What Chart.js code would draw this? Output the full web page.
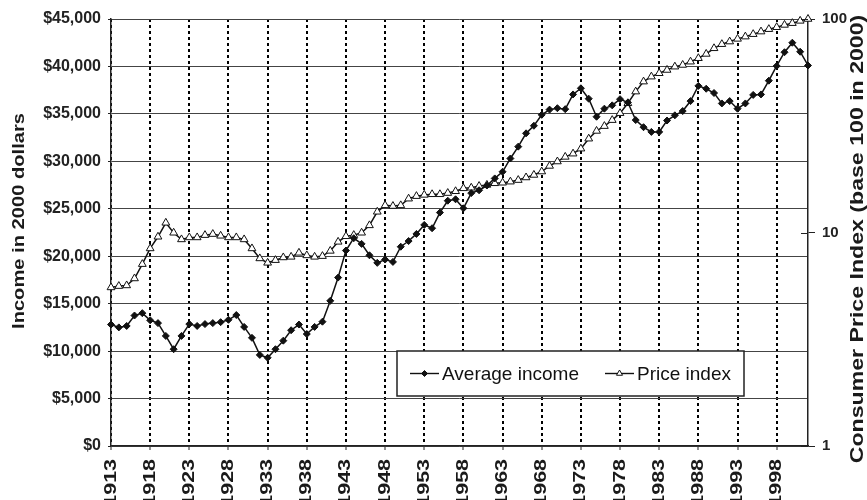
<!DOCTYPE html>
<html>
<head>
<meta charset="utf-8">
<script src="https://cdn.jsdelivr.net/npm/chart.js@4.4.1/dist/chart.umd.min.js"></script>
<style>
  html, body { margin: 0; padding: 0; background: #fff; }
  canvas { display: block; }
</style>
</head>
<body>
<canvas id="incomeChart" width="867" height="500"></canvas>
<script>
// years on the category axis
const years = [
  1913, 1914, 1915, 1916, 1917, 1918, 1919, 1920, 1921, 1922,
  1923, 1924, 1925, 1926, 1927, 1928, 1929, 1930, 1931, 1932,
  1933, 1934, 1935, 1936, 1937, 1938, 1939, 1940, 1941, 1942,
  1943, 1944, 1945, 1946, 1947, 1948, 1949, 1950, 1951, 1952,
  1953, 1954, 1955, 1956, 1957, 1958, 1959, 1960, 1961, 1962,
  1963, 1964, 1965, 1966, 1967, 1968, 1969, 1970, 1971, 1972,
  1973, 1974, 1975, 1976, 1977, 1978, 1979, 1980, 1981, 1982,
  1983, 1984, 1985, 1986, 1987, 1988, 1989, 1990, 1991, 1992,
  1993, 1994, 1995, 1996, 1997, 1998, 1999, 2000, 2001, 2002
];

// average income, 2000 dollars
const averageIncome = [
  12800, 12500, 12650, 13750, 14000, 13250, 12950, 11600, 10200, 11600,
  12850, 12650, 12850, 12950, 13050, 13300, 13800, 12550, 11400, 9600,
  9300, 10200, 11100, 12200, 12800, 11800, 12550, 13100, 15300, 17750,
  20600, 21900, 21300, 20100, 19300, 19650, 19400, 21000, 21600, 22350,
  23300, 22950, 24600, 25850, 26000, 25050, 26650, 26950, 27450, 28200,
  28900, 30300, 31550, 32950, 33750, 34900, 35450, 35600, 35500, 37050,
  37700, 36600, 34700, 35550, 35900, 36550, 36200, 34350, 33600, 33100,
  33100, 34300, 34850, 35300, 36350, 37950, 37650, 37200, 36100, 36350,
  35550, 36100, 37000, 37050, 38500, 40050, 41500, 42500, 41550, 40100
];

// consumer price index, base 100 in 2000
const priceIndex = [
  5.53, 5.61, 5.65, 6.09, 7.11, 8.42, 9.55, 11.1, 9.97, 9.28,
  9.48, 9.48, 9.72, 9.83, 9.65, 9.48, 9.48, 9.28, 8.42, 7.56,
  7.21, 7.42, 7.64, 7.69, 8.03, 7.81, 7.69, 7.75, 8.2, 9.04,
  9.6, 9.72, 9.97, 10.8, 12.5, 13.4, 13.3, 13.4, 14.4, 14.8,
  15.0, 15.1, 15.1, 15.3, 15.6, 16.1, 16.2, 16.5, 16.7, 17.0,
  17.1, 17.3, 17.6, 18.1, 18.6, 19.3, 20.5, 21.5, 22.6, 23.4,
  24.7, 27.5, 29.9, 31.5, 33.6, 36.2, 40.3, 45.7, 50.9, 53.7,
  55.7, 57.7, 59.8, 60.9, 63.1, 65.5, 68.6, 72.9, 76.2, 78.4,
  80.7, 82.7, 84.9, 87.3, 89.6, 91.5, 93.8, 95.6, 98.0, 100
];

const incomeTicks = [0, 5000, 10000, 15000, 20000, 25000, 30000, 35000, 40000, 45000];
const priceTicks = [1, 10, 100];
const seriesNames = ["Average income", "Price index"];
const leftTitle = "Income in 2000 dollars";
const rightTitle = "Consumer Price Index (base 100 in 2000)";

const FONT = "'Liberation Sans', Arial, Helvetica, sans-serif";
const INK = "#111";

// rotated text, stretched along its length like the original scan
function drawUpText(ctx, text, x, y, size, stretch, align) {
  ctx.save();
  ctx.translate(x, y);
  ctx.rotate(-Math.PI / 2);
  ctx.scale(stretch, 1);
  ctx.font = "bold " + size + "px " + FONT;
  ctx.fillStyle = "#1a1a1a";
  ctx.textAlign = align;
  ctx.textBaseline = "middle";
  ctx.fillText(text, 0, 0);
  ctx.restore();
}

const decorations = {
  id: "decorations",
  afterDraw(chart) {
    const ctx = chart.ctx;
    const xs = chart.scales.x;
    const y1 = chart.scales.y1;
    const area = chart.chartArea;

    // year labels every five years
    xs.ticks.forEach((t, i) => {
      if (i % 5 !== 0) return;
      drawUpText(ctx, String(years[i]), xs.getPixelForTick(i), area.bottom + 13, 16.5, 1.3, "right");
    });

    // inner half of the right-axis ticks
    ctx.save();
    ctx.strokeStyle = "#222";
    ctx.lineWidth = 1;
    priceTicks.forEach((v) => {
      const py = Math.round(y1.getPixelForValue(v)) + 0.5;
      ctx.beginPath();
      ctx.moveTo(area.right - 7, py);
      ctx.lineTo(area.right, py);
      ctx.stroke();
    });
    ctx.restore();

    // axis titles
    drawUpText(ctx, leftTitle, 19, 221, 16.5, 1.22, "center");
    drawUpText(ctx, rightTitle, 858, 239, 18.5, 1.25, "center");

    // legend box
    const lx = 397, ly = 351, lw = 347, lh = 45;
    ctx.save();
    ctx.fillStyle = "#fff";
    ctx.fillRect(lx, ly, lw, lh);
    ctx.strokeStyle = "#222";
    ctx.lineWidth = 1.5;
    ctx.strokeRect(lx, ly, lw, lh);
    const cy = ly + lh / 2;
    const items = [
      { x: 410, style: "rectRot", r: 3, fill: INK },
      { x: 605, style: "triangle", r: 3.5, fill: "#fff" }
    ];
    items.forEach((it, k) => {
      ctx.strokeStyle = INK;
      ctx.lineWidth = 1.4;
      ctx.beginPath();
      ctx.moveTo(it.x, cy);
      ctx.lineTo(it.x + 29, cy);
      ctx.stroke();
      ctx.fillStyle = it.fill;
      ctx.lineWidth = 1;
      Chart.helpers.drawPoint(ctx, { pointStyle: it.style, radius: it.r, borderWidth: 1 }, it.x + 14.5, cy);
      ctx.fillStyle = INK;
      ctx.font = "19px " + FONT;
      ctx.textAlign = "left";
      ctx.textBaseline = "middle";
      ctx.fillText(seriesNames[k], it.x + 32, cy + 1);
    });
    ctx.restore();
  }
};

new Chart(document.getElementById("incomeChart"), {
  type: "line",
  data: {
    labels: years,
    datasets: [
      {
        label: seriesNames[0],
        data: averageIncome,
        yAxisID: "y",
        borderColor: INK,
        backgroundColor: INK,
        borderWidth: 1.5,
        pointStyle: "rectRot",
        pointRadius: 3.5,
        pointBorderWidth: 1,
        pointBackgroundColor: INK,
        pointBorderColor: INK,
        tension: 0,
        clip: false
      },
      {
        label: seriesNames[1],
        data: priceIndex,
        yAxisID: "y1",
        borderColor: INK,
        backgroundColor: "#fff",
        borderWidth: 1.5,
        pointStyle: "triangle",
        pointRadius: 4.5,
        pointBorderWidth: 1,
        pointBackgroundColor: "#fff",
        pointBorderColor: INK,
        tension: 0,
        clip: false
      }
    ]
  },
  options: {
    responsive: false,
    animation: false,
    devicePixelRatio: 1,
    layout: { padding: { top: 19, left: 0, right: 0, bottom: 0 } },
    plugins: {
      legend: { display: false },
      tooltip: { enabled: false }
    },
    scales: {
      x: {
        type: "category",
        offset: false,
        afterFit(s) { s.height = 54; },
        ticks: { display: false, autoSkip: false },
        grid: {
          offset: false,
          color: (c) => (c.index % 5 === 0 ? "#000" : "transparent"),
          lineWidth: 2,
          tickColor: (c) => (c.index % 5 === 0 ? "#222" : "transparent"),
          tickLength: 4,
          tickWidth: 1
        },
        border: { display: true, color: "#222", width: 1.5, dash: [3, 3] }
      },
      y: {
        position: "left",
        min: 0,
        max: 45000,
        afterFit(s) { s.width = 111; },
        afterBuildTicks(s) { s.ticks = incomeTicks.map((v) => ({ value: v })); },
        ticks: {
          padding: 7,
          color: "#222",
          font: { family: FONT, size: 16, weight: "bold" },
          callback: (v) => "$" + Number(v).toLocaleString("en-US")
        },
        grid: { color: "#444", lineWidth: 1, tickLength: 3, tickColor: "#222" },
        border: { display: true, color: "#222", width: 1.5 }
      },
      y1: {
        type: "logarithmic",
        position: "right",
        min: 1,
        max: 100,
        afterFit(s) { s.width = 59; },
        afterBuildTicks(s) { s.ticks = priceTicks.map((v) => ({ value: v })); },
        ticks: {
          padding: 7,
          color: "#222",
          font: { family: FONT, size: 15, weight: "bold" },
          callback: (v) => String(v)
        },
        grid: { drawOnChartArea: false, tickLength: 7, tickColor: "#222" },
        border: { display: true, color: "#222", width: 1.5 }
      }
    }
  },
  plugins: [decorations]
});
</script>
</body>
</html>
